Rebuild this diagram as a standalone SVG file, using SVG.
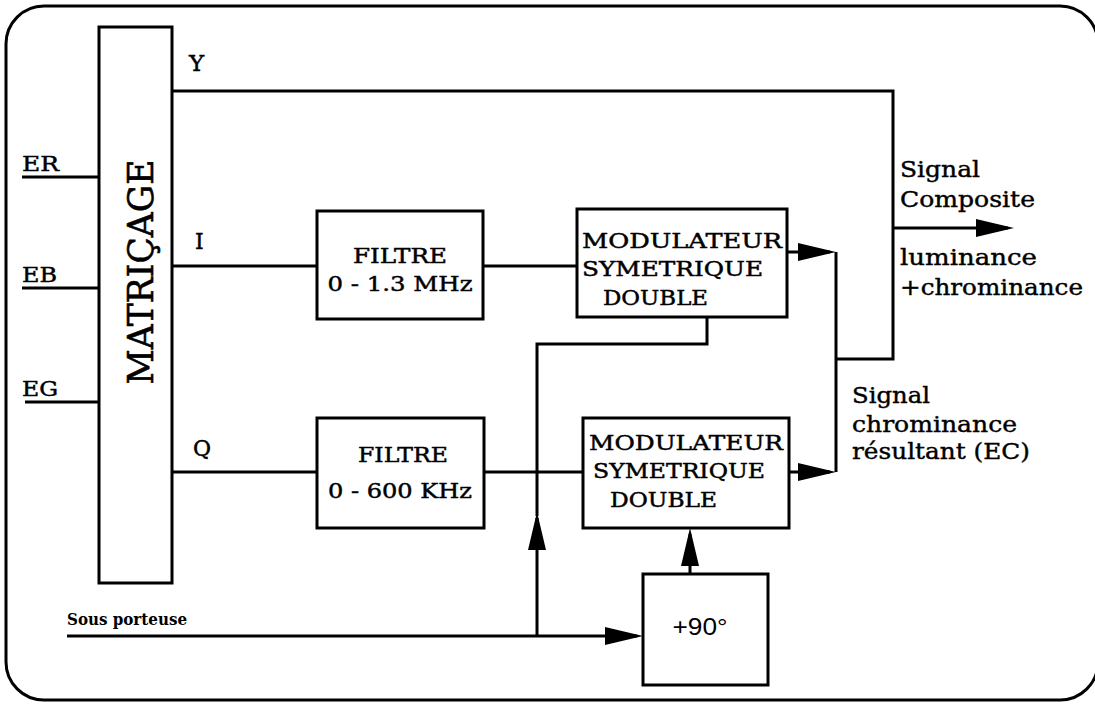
<svg xmlns="http://www.w3.org/2000/svg" width="1095" height="704" viewBox="0 0 1095 704">
<style>
.ln{fill:none;stroke:#000;stroke-width:3}
.bx{fill:#fff;stroke:#000;stroke-width:3}
.t{font-family:"DejaVu Serif","Liberation Serif",serif;font-size:20px;fill:#000;stroke:#000;stroke-width:0.45}
.r{font-family:"DejaVu Serif","Liberation Serif",serif;font-size:22px;fill:#000;stroke:#000;stroke-width:0.4}
.s{font-family:"Liberation Sans",Arial,sans-serif;font-size:24px;fill:#000}
</style>
<defs>
<marker id="arr" markerUnits="userSpaceOnUse" markerWidth="38" markerHeight="18" refX="32" refY="9" orient="auto" overflow="visible">
<path d="M0,0 L38,9 L0,18 Z" fill="#000"/>
</marker>
</defs>
<rect x="6" y="6" width="1092" height="694" rx="38" ry="38" fill="none" stroke="#000" stroke-width="3"/>

<g id="connectors">
<path class="ln" d="M22,177 H99"/>
<path class="ln" d="M22,288 H99"/>
<path class="ln" d="M25,402 H99"/>
<path class="ln" d="M172,91 H893 V359 H836"/>
<path class="ln" d="M172,266 H317"/>
<path class="ln" d="M483,266 H577"/>
<path class="ln" d="M172,472 H317"/>
<path class="ln" d="M484,472 H583"/>
<path class="ln" d="M836,252 V472"/>
<path class="ln" d="M893,228 H1008" marker-end="url(#arr)"/>
<path class="ln" d="M787,252 H830" marker-end="url(#arr)"/>
<path class="ln" d="M789,472 H830" marker-end="url(#arr)"/>
<path class="ln" d="M67,636 H637" marker-end="url(#arr)"/>
<path class="ln" d="M690,574 V534" marker-end="url(#arr)"/>
<path class="ln" d="M537,636 V518" marker-end="url(#arr)"/>
<path class="ln" d="M537,516 V344 H707 V317"/>
</g>

<g id="inputs">
<text class="t" x="22" y="171" textLength="37" lengthAdjust="spacingAndGlyphs">ER</text>
<text class="t" x="22" y="282" textLength="35" lengthAdjust="spacingAndGlyphs">EB</text>
<text class="t" x="22" y="396" textLength="36" lengthAdjust="spacingAndGlyphs">EG</text>
</g>

<g id="matricage">
<rect class="bx" x="99" y="27" width="73" height="556"/>
<text class="t" style="font-size:36px;stroke-width:0.6" text-anchor="middle" transform="translate(153,272) rotate(-90)" textLength="225" lengthAdjust="spacingAndGlyphs">MATRIÇAGE</text>
</g>

<g id="signal-labels">
<text class="t" style="font-size:23px" x="189" y="71">Y</text>
<text class="t" style="font-size:22px" x="195" y="249">I</text>
<text class="t" style="font-size:22px" x="193" y="456">Q</text>
</g>

<g id="filtre1">
<rect class="bx" x="317" y="211" width="166" height="108"/>
<text class="t" x="400" y="263" text-anchor="middle" textLength="94" lengthAdjust="spacingAndGlyphs">FILTRE</text>
<text class="t" x="400" y="291" text-anchor="middle" textLength="145" lengthAdjust="spacingAndGlyphs">0 - 1.3 MHz</text>
</g>

<g id="filtre2">
<rect class="bx" x="317" y="418" width="167" height="110"/>
<text class="t" x="403" y="462" text-anchor="middle" textLength="90" lengthAdjust="spacingAndGlyphs">FILTRE</text>
<text class="t" x="400" y="498" text-anchor="middle" textLength="144" lengthAdjust="spacingAndGlyphs">0 - 600 KHz</text>
</g>

<g id="modulateur1">
<rect class="bx" x="577" y="209" width="210" height="108"/>
<text class="t" x="582" y="248" textLength="200" lengthAdjust="spacingAndGlyphs">MODULATEUR</text>
<text class="t" x="582" y="276" textLength="181" lengthAdjust="spacingAndGlyphs">SYMETRIQUE</text>
<text class="t" x="603" y="305" textLength="105" lengthAdjust="spacingAndGlyphs">DOUBLE</text>
</g>

<g id="modulateur2">
<rect class="bx" x="583" y="418" width="206" height="110"/>
<text class="t" x="589" y="450" textLength="194" lengthAdjust="spacingAndGlyphs">MODULATEUR</text>
<text class="t" x="593" y="478" textLength="172" lengthAdjust="spacingAndGlyphs">SYMETRIQUE</text>
<text class="t" x="610" y="507" textLength="107" lengthAdjust="spacingAndGlyphs">DOUBLE</text>
</g>

<g id="dephaseur">
<rect class="bx" x="643" y="574" width="125" height="111"/>
<text class="s" x="700" y="635" text-anchor="middle" textLength="55" lengthAdjust="spacingAndGlyphs">+90°</text>
</g>

<g id="sous-porteuse">
<text class="t" style="font-size:16px;font-weight:bold;stroke-width:0" x="67" y="625" textLength="120" lengthAdjust="spacingAndGlyphs">Sous porteuse</text>
</g>

<g id="composite-label">
<text class="r" x="900" y="177" textLength="80" lengthAdjust="spacingAndGlyphs">Signal</text>
<text class="r" x="900" y="207" textLength="135" lengthAdjust="spacingAndGlyphs">Composite</text>
<text class="r" x="900" y="265" textLength="137" lengthAdjust="spacingAndGlyphs">luminance</text>
<text class="r" x="900" y="295" textLength="183" lengthAdjust="spacingAndGlyphs">+chrominance</text>
</g>

<g id="chrominance-label">
<text class="r" x="852" y="403" textLength="78" lengthAdjust="spacingAndGlyphs">Signal</text>
<text class="r" x="852" y="432" textLength="165" lengthAdjust="spacingAndGlyphs">chrominance</text>
<text class="r" x="852" y="459" textLength="178" lengthAdjust="spacingAndGlyphs">résultant (EC)</text>
</g>
</svg>
